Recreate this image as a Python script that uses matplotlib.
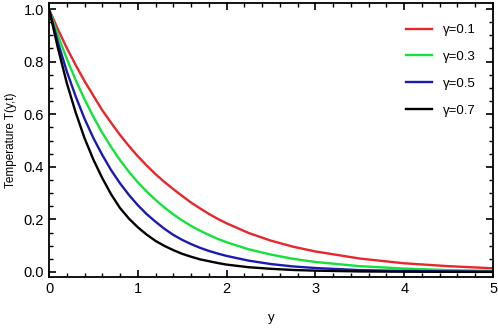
import matplotlib
matplotlib.use("Agg")
import matplotlib.pyplot as plt
from matplotlib.ticker import MultipleLocator

# --- data ---
y_pos = [0.0, 0.1, 0.2, 0.3, 0.4, 0.5, 0.6, 0.7, 0.8, 0.9, 1.0, 1.1, 1.2, 1.3,
         1.4, 1.5, 1.6, 1.7, 1.8, 1.9, 2.0, 2.25, 2.5, 2.75, 3.0, 3.5, 4.0,
         4.5, 5.0]

T_g01 = [1.000, 0.923, 0.852, 0.787, 0.726, 0.670, 0.615, 0.567, 0.521, 0.479,
         0.440, 0.405, 0.372, 0.342, 0.315, 0.289, 0.264, 0.242, 0.221, 0.202,
         0.185, 0.148, 0.119, 0.096, 0.078, 0.051, 0.033, 0.022, 0.014]
T_g03 = [1.000, 0.900, 0.811, 0.730, 0.657, 0.590, 0.529, 0.475, 0.425, 0.381,
         0.341, 0.306, 0.274, 0.245, 0.219, 0.196, 0.175, 0.157, 0.141, 0.126,
         0.113, 0.086, 0.066, 0.050, 0.038, 0.022, 0.013, 0.007, 0.004]
T_g05 = [1.000, 0.874, 0.763, 0.668, 0.583, 0.509, 0.445, 0.387, 0.337, 0.293,
         0.254, 0.220, 0.191, 0.164, 0.141, 0.122, 0.106, 0.092, 0.080, 0.070,
         0.061, 0.043, 0.030, 0.021, 0.015, 0.007, 0.004, 0.002, 0.001]
T_g07 = [1.000, 0.852, 0.719, 0.607, 0.509, 0.427, 0.357, 0.295, 0.243, 0.203,
         0.170, 0.142, 0.118, 0.099, 0.083, 0.069, 0.058, 0.048, 0.041, 0.034,
         0.028, 0.018, 0.012, 0.0075, 0.005, 0.002, 0.001, 0.0005, 0.0002]

labels = ["γ=0.1", "γ=0.3", "γ=0.5", "γ=0.7"]
colors = ["#e8262b", "#12e23a", "#1a1ab0", "#000000"]

plt.rcParams['font.family'] = ['Liberation Sans', 'DejaVu Sans']

fig = plt.figure(figsize=(4.98, 3.28), dpi=100)
ax = fig.add_axes([0.0984, 0.1564, 0.8916, 0.8345])

for T, lab, c in zip([T_g01, T_g03, T_g05, T_g07], labels, colors):
    ax.plot(y_pos, T, color=c, lw=1.7, label=lab)

ax.set_xlim(0, 5)
ax.set_ylim(-0.018, 1.023)
ax.xaxis.set_major_locator(MultipleLocator(1))
ax.xaxis.set_minor_locator(MultipleLocator(0.2))
ax.yaxis.set_major_locator(MultipleLocator(0.2))
ax.yaxis.set_minor_locator(MultipleLocator(0.05))
ax.tick_params(which='both', direction='in', top=True, right=True, labelsize=10.5)
ax.tick_params(which='major', length=5, width=1.2)
ax.tick_params(which='minor', length=3, width=1.0)
ax.set_yticks([0.0, 0.2, 0.4, 0.6, 0.8, 1.0])
ax.set_yticklabels(["0.0", "0.2", "0.4", "0.6", "0.8", "1.0"])
for s in ax.spines.values():
    s.set_linewidth(1.3)

ax.set_xlabel("y", fontsize=9.5, labelpad=12)
ax.set_ylabel("Temperature T(y,t)", fontsize=8.5, labelpad=5)

ax.legend(loc='upper right', frameon=False, fontsize=9.5, handlelength=2.0,
          labelspacing=1.1, borderaxespad=1.2, bbox_to_anchor=(1.008, 1.0))

fig.savefig("out.png", dpi=100)
